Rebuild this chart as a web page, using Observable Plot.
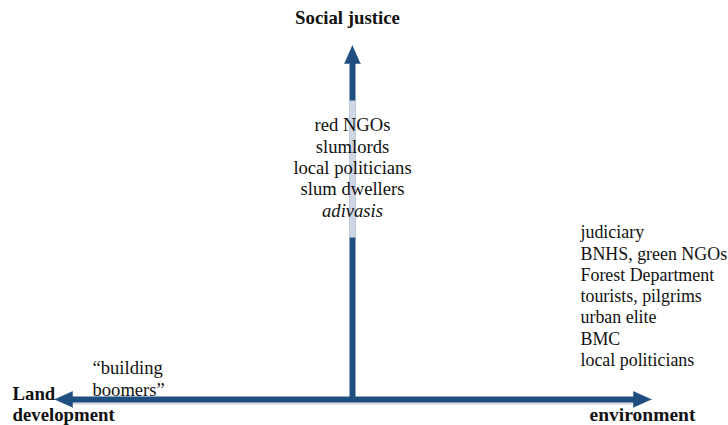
<!DOCTYPE html>
<html><head><meta charset="utf-8">
<script src="https://cdn.jsdelivr.net/npm/d3@7"></script>
<script src="https://cdn.jsdelivr.net/npm/@observablehq/plot@0.6"></script>
<style>body{margin:0;background:#fff}#c svg{display:block}</style>
</head><body><div id="c"></div>
<script>
// ---- data ----
const axisTop = ["Social justice"];
const axisLeft = ["Land", "development"];
const axisRight = ["environment"];
const centerActors = ["red NGOs", "slumlords", "local politicians", "slum dwellers", "adivasis"];
const centerItalic = [false, false, false, false, true];
const rightActors = ["judiciary", "BNHS, green NGOs", "Forest Department", "tourists, pilgrims", "urban elite", "BMC", "local politicians"];
const leftActors = ["“building", "boomers”"];

// diagram geometry (diagram space = pixel-like units)
const origin = {x: 352, y: 399};
const ends = {top: 45, left: 54, right: 651};
const head = {len: 18, half: 8};
const LH = 21.3;
const navy = "#1f4e80";
const font = "'Liberation Serif', 'Times New Roman', serif";
const FS = 18.6;
const FR = 17.9;
const FB = 18.8;

const shafts = [
  {x1: ends.left + head.len - 1, y1: origin.y, x2: ends.right - head.len + 1, y2: origin.y},
  {x1: origin.x, y1: ends.top + head.len - 1, x2: origin.x, y2: origin.y}
];
const heads = [
  [[origin.x, ends.top], [origin.x - head.half, ends.top + head.len], [origin.x + head.half, ends.top + head.len]],
  [[ends.left, origin.y], [ends.left + head.len, origin.y - head.half], [ends.left + head.len, origin.y + head.half]],
  [[ends.right, origin.y], [ends.right - head.len, origin.y - head.half], [ends.right - head.len, origin.y + head.half]]
].flatMap((tri, k) => tri.map(([x, y]) => ({k, x, y})));

const centerRows = centerActors.map((t, i) => ({t, x: origin.x, y: 125 + i * LH, it: centerItalic[i]}));
const rightRows = rightActors.map((t, i) => ({t, x: 580, y: 232 + i * LH}));
const leftRows = leftActors.map((t, i) => ({t, x: 92, y: 368 + i * LH}));
const topRows = [{t: axisTop[0], x: 347, y: 17}];
const leftBold = axisLeft.map((t, i) => ({t, x: 12, y: 393 + i * LH}));
const rightBold = [{t: axisRight[0], x: 642, y: 414}];

const txt = {x: "x", y: "y", text: "t", fontSize: FS, fontFamily: font, fill: "#111"};
const bold = {x: "x", y: "y", text: "t", fontSize: FB, fontFamily: font, fontWeight: "bold", fill: "#111"};

const chart = Plot.plot({
  width: 728, height: 425,
  margin: 0,
  x: {domain: [0, 728], range: [0, 728], axis: null},
  y: {domain: [0, 425], range: [0, 425], axis: null},
  style: {background: "#fff"},
  marks: [
    // soft shadow under horizontal arrow
    Plot.link([shafts[0]], {x1: "x1", y1: d => d.y1 + 4, x2: "x2", y2: d => d.y2 + 4, stroke: "#dcdcdc", strokeWidth: 2.5}),
    Plot.link(shafts, {x1: "x1", y1: "y1", x2: "x2", y2: "y2", stroke: navy, strokeWidth: 6}),
    Plot.line(heads, {x: "x", y: "y", z: "k", fill: navy, stroke: navy, strokeWidth: 0.5}),
    // translucent text box over the vertical shaft
    Plot.link([{x: origin.x, y1: 100, y2: 237}], {x1: "x", x2: "x", y1: "y1", y2: "y2", stroke: "#cfd7e4", strokeWidth: 6.5}),
    Plot.text(centerRows.filter(d => !d.it), {...txt, textAnchor: "middle"}),
    Plot.text(centerRows.filter(d => d.it), {...txt, textAnchor: "middle", fontStyle: "italic"}),
    Plot.text(rightRows, {...txt, fontSize: FR, textAnchor: "start"}),
    Plot.text(leftRows, {...txt, textAnchor: "start"}),
    Plot.text(topRows, {...bold, textAnchor: "middle"}),
    Plot.text(leftBold, {...bold, textAnchor: "start"}),
    Plot.text(rightBold, {...bold, fontSize: 19.5, textAnchor: "middle"})
  ]
});
document.getElementById("c").append(chart);
</script>
</body></html>
